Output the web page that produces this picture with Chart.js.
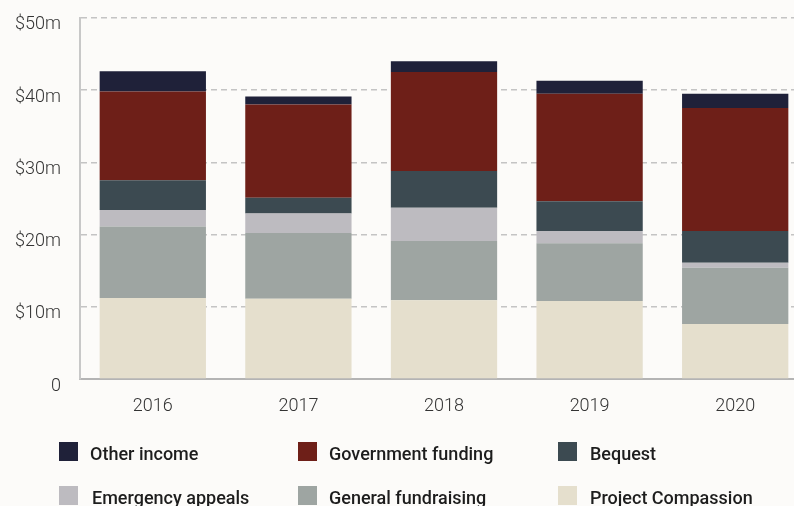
<!DOCTYPE html>
<html>
<head>
<meta charset="utf-8">
<script src="https://cdn.jsdelivr.net/npm/chart.js@4/dist/chart.umd.min.js"></script>
<style>
  html, body { margin: 0; padding: 0; background: #fcfbf9; overflow: hidden; }
  #wrap { position: relative; width: 794px; height: 506px; overflow: hidden; }
  #box { position: absolute; left: 0; top: -12px; width: 812px; height: 437px; }
  #legend { position: absolute; left: 0; top: 0; width: 794px; height: 506px; pointer-events: none; }
  .item { position: absolute; font-family: Roboto, sans-serif; font-weight: 500; font-size: 18px; color: #1d1d1d; white-space: nowrap; }
  .sw { position: absolute; width: 19px; height: 19px; }
</style>
</head>
<body>
<div id="wrap">
  <div id="box"><canvas id="myChart"></canvas></div>
  <div id="legend"></div>
</div>
<script>
// dados (em milhões)
const anos = ['2016', '2017', '2018', '2019', '2020'];
const projectCompassion = [11.2, 11.1, 10.9, 10.8, 7.6];
const generalFundraising = [9.9, 9.1, 8.2, 8.0, 7.8];
const emergencyAppeals = [2.3, 2.7, 4.6, 1.7, 0.7];
const bequest = [4.1, 2.2, 5.1, 4.1, 4.4];
const governmentFunding = [12.3, 12.9, 13.7, 14.9, 17.0];
const otherIncome = [2.8, 1.1, 1.5, 1.8, 2.0];
const tickLabels = ['0', '$10m', '$20m', '$30m', '$40m', '$50m'];

const series = [
    { label: 'Project Compassion', data: projectCompassion, color: '#e5dfcd' },
    { label: 'General fundraising', data: generalFundraising, color: '#9ea5a2' },
    { label: 'Emergency appeals', data: emergencyAppeals, color: '#bdbbc0' },
    { label: 'Bequest', data: bequest, color: '#3c4a51' },
    { label: 'Government funding', data: governmentFunding, color: '#6e1f18' },
    { label: 'Other income', data: otherIncome, color: '#1f2139' }
];

// legenda em grade (3 colunas)
const legendOrder = ['Other income', 'Government funding', 'Bequest', 'Emergency appeals', 'General fundraising', 'Project Compassion'];
const colX = [59, 298, 558];
const textX = [90, 329, 590];
const rowY = [442, 486];
const legend = document.getElementById('legend');
legendOrder.forEach((name, i) => {
    const s = series.find(d => d.label === name);
    const c = i % 3, r = Math.floor(i / 3);
    const sw = document.createElement('div');
    sw.className = 'sw';
    sw.style.left = colX[c] + 'px';
    sw.style.top = rowY[r] + 'px';
    sw.style.background = s.color;
    legend.appendChild(sw);
    const tx = document.createElement('div');
    tx.className = 'item';
    tx.style.left = (textX[c] + (r === 1 && c === 0 ? 2 : 0)) + 'px';
    tx.style.top = (rowY[r] + 1) + 'px';
    tx.textContent = name;
    legend.appendChild(tx);
});

const ctx = document.getElementById('myChart').getContext('2d');
const myChart = new Chart(ctx, {
    type: 'bar',
    data: {
        labels: anos,
        datasets: series.map(s => ({
            label: s.label,
            data: s.data,
            backgroundColor: s.color,
            borderWidth: 0,
            barPercentage: 0.73,
            categoryPercentage: 1
        }))
    },
    options: {
        responsive: true,
        maintainAspectRatio: false,
        animation: false,
        layout: {
            padding: { top: 7, right: 4, bottom: 0, left: 0 }
        },
        plugins: {
            legend: { display: false },
            tooltip: { enabled: false }
        },
        scales: {
            x: {
                stacked: true,
                grid: { display: false, drawTicks: false },
                border: { display: true, color: '#b4b4b4', width: 2 },
                ticks: {
                    color: '#333',
                    padding: 17,
                    font: { family: 'Roboto', size: 18, weight: 300 }
                },
                afterFit: s => { s.height = 46; }
            },
            y: {
                stacked: true,
                min: 0,
                max: 50,
                grid: { color: '#c4c4c4', lineWidth: 1.5, drawTicks: false },
                border: { display: true, color: '#c8c8c8', width: 2, dash: [6, 4] },
                ticks: {
                    stepSize: 10,
                    color: '#333',
                    padding: 19,
                    labelOffset: 7,
                    font: { family: 'Roboto', size: 18, weight: 300 },
                    callback: v => tickLabels[v / 10]
                },
                afterFit: s => { s.width = 80; }
            }
        }
    }
});
</script>
</body>
</html>
